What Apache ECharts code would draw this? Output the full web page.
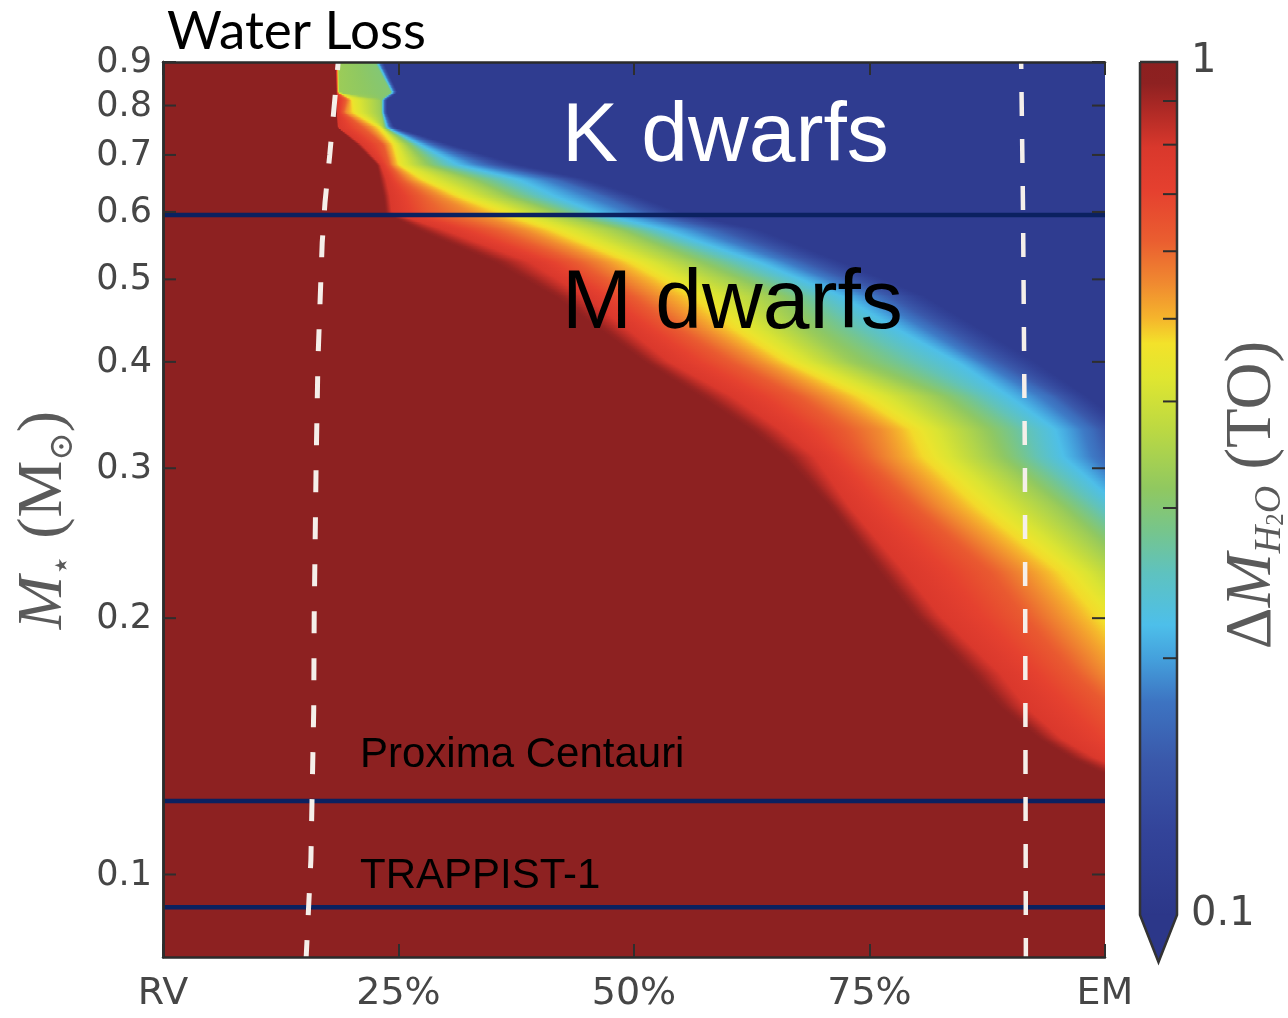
<!DOCTYPE html>
<html>
<head>
<meta charset="utf-8">
<script src="https://cdn.jsdelivr.net/npm/echarts@6/dist/echarts.min.js"></script>
<style>
  html, body { margin: 0; padding: 0; background: #fff; }
  #chart { width: 1288px; height: 1018px; }
</style>
</head>
<body>
<div id="chart"></div>
<script>
// Position in the habitable zone (Recent Venus -> Early Mars), percent
const xTicks = [0, 25, 50, 75, 100];
const xTickLabels = ['RV', '25%', '50%', '75%', 'EM'];
// Stellar mass ticks (solar masses)
const massTicks = [0.1, 0.2, 0.3, 0.4, 0.5, 0.6, 0.7, 0.8, 0.9];
// Minor ticks on the colour bar (terrestrial oceans)
const cbarTicks = [0.2, 0.3, 0.4, 0.5, 0.6, 0.7, 0.8, 0.9];

// Water lost (TO) at each contour level
const lossLevels = [0.97, 0.79, 0.63, 0.55, 0.45, 0.33, 0.30, 0.22, 0.17, 0.11];
// Stellar mass of each contour row
const rowMass = [0.90, 0.893, 0.828, 0.812, 0.784, 0.753, 0.719, 0.681, 0.654, 0.625,
                 0.598, 0.571, 0.523, 0.477, 0.436, 0.399, 0.364, 0.333, 0.309, 0.270,
                 0.226, 0.201, 0.172, 0.157, 0.144, 0.137, 0.131, 0.08];
// HZ position (%) where the water loss crosses each level, one list per row
const contourPos = [
  [18.35, 18.4, 18.45, 18.5, 18.55, 18.65, 22.6, 22.9, 23.1, 23.5],
  [18.35, 18.4, 18.45, 18.5, 18.55, 18.65, 22.6, 22.9, 23.1, 23.5],
  [18.4, 18.45, 18.5, 18.55, 18.6, 18.7, 24.2, 24.4, 24.6, 24.9],
  [18.4, 18.5, 19.4, 19.75, 20.1, 23.0, 23.2, 23.35, 23.5, 23.8],
  [18.4, 18.5, 19.1, 19.4, 20.4, 23.1, 23.2, 23.35, 23.5, 23.8],
  [18.5, 18.6, 21.1, 22.0, 23.1, 23.45, 23.55, 23.8, 24.1, 24.6],
  [20.6, 21.1, 23.35, 23.8, 24.6, 25.9, 26.35, 27.3, 28.6, 30.5],
  [22.7, 23.1, 24.0, 24.4, 25.2, 27.8, 28.6, 31.3, 34.2, 37.7],
  [23.0, 23.7, 25.2, 26.2, 27.9, 32.6, 33.7, 37.8, 41.7, 45.1],
  [23.4, 24.1, 27.3, 29.4, 31.9, 36.5, 37.6, 41.7, 46.6, 50.5],
  [23.6, 24.3, 28.3, 32.6, 36.7, 41.4, 42.5, 46.1, 50.5, 54.9],
  [27.0, 29.8, 34.8, 38.2, 42.1, 48.2, 49.4, 53.3, 58.0, 63.3],
  [35.2, 39.0, 43.7, 46.6, 50.5, 56.4, 58.1, 63.3, 67.2, 72.1],
  [41.6, 44.8, 49.6, 52.4, 57.4, 64.8, 66.6, 72.1, 76.0, 80.9],
  [46.4, 49.4, 54.5, 57.4, 61.8, 68.2, 70.6, 78.0, 82.0, 86.8],
  [51.2, 53.8, 60.2, 63.3, 67.2, 73.1, 75.8, 84.4, 87.8, 92.7],
  [57.0, 60.4, 67.2, 70.2, 75.1, 82.0, 83.9, 89.8, 94.2, 98.1],
  [62.3, 65.5, 72.1, 76.0, 80.5, 86.8, 88.7, 94.7, 98.6, 102.7],
  [66.0, 69.2, 74.1, 77.1, 82.0, 88.3, 90.1, 95.6, 99.6, 103.7],
  [70.8, 72.9, 79.6, 82.5, 87.8, 94.9, 96.5, 101.6, 104.8, 109.0],
  [76.1, 78.8, 87.8, 91.3, 96.6, 102.7, 104.5, 110.1, 114.3, 118.6],
  [79.8, 82.5, 91.3, 94.9, 100.5, 106.9, 108.4, 113.3, 117.5, 121.8],
  [85.7, 88.9, 96.6, 100.0, 105.8, 112.2, 113.7, 118.6, 122.8, 127.1],
  [88.9, 91.7, 100.5, 103.7, 109.0, 115.4, 117.0, 121.8, 126.0, 130.3],
  [93.1, 95.5, 103.7, 106.9, 112.2, 118.6, 120.1, 125.0, 129.3, 133.5],
  [96.3, 98.9, 105.8, 109.0, 114.3, 120.7, 122.2, 127.1, 131.3, 135.6],
  [100.0, 103.2, 109.0, 112.2, 117.5, 123.9, 125.4, 130.3, 134.5, 138.8],
  [110, 115, 120, 125, 130, 135, 137, 140, 145, 150]
];

// K/M boundary and two well-known stars (solar masses)
const kmBoundary = 0.595;
const proximaMass = 0.122;
const trappistMass = 0.0915;

// Inner and outer dashed limits: [HZ position %, stellar mass]
const innerEdge = [[18.6, 0.9], [17.7, 0.70], [17.2, 0.616], [16.9, 0.552], [16.45, 0.402],
                   [16.25, 0.301], [16.05, 0.201], [16.0, 0.156], [15.7, 0.104], [15.2, 0.08]];
const outerEdge = [[91.1, 0.9], [91.3, 0.6], [91.5, 0.3], [91.6, 0.08]];

// Jet-like colour map on log10(loss) from 0.1 TO (t = 0) to 1 TO (t = 1)
const cmapStops = [
  [0.00, '#2c3789'], [0.10, '#33449a'], [0.18, '#3a58aa'], [0.25, '#3d74c2'],
  [0.30, '#44a0dc'], [0.34, '#4dbfea'], [0.40, '#5ec2c0'], [0.45, '#76c58c'],
  [0.50, '#90c860'], [0.57, '#bcd942'], [0.63, '#e0e630'], [0.67, '#f3e22a'],
  [0.70, '#f5b42c'], [0.74, '#f08a30'], [0.79, '#ea5e30'], [0.85, '#e5402f'],
  [0.90, '#d9382c'], [0.945, '#ad2925'], [0.975, '#8e2121'], [1.00, '#8c2020']
];

function hexRgb(h) {
  return [parseInt(h.slice(1, 3), 16), parseInt(h.slice(3, 5), 16), parseInt(h.slice(5, 7), 16)];
}
const cmapRgb = cmapStops.map(s => [s[0], hexRgb(s[1])]);
function cmap(t) {
  t = Math.max(0, Math.min(1, t));
  for (let i = 0; i < cmapRgb.length - 1; i++) {
    const a = cmapRgb[i], b = cmapRgb[i + 1];
    if (t <= b[0]) {
      const u = (t - a[0]) / (b[0] - a[0]);
      const c = a[1].map((v, k) => Math.round(v + (b[1][k] - v) * u));
      return 'rgb(' + c.join(',') + ')';
    }
  }
  const c = cmapRgb[cmapRgb.length - 1][1];
  return 'rgb(' + c.join(',') + ')';
}

const levelT = lossLevels.map(v => 1 + Math.log10(v));

function tAt(p, x) {
  if (x <= p[0]) return levelT[0];
  for (let i = 0; i < p.length - 1; i++) {
    if (x <= p[i + 1]) {
      const w = p[i + 1] - p[i];
      const u = w > 0 ? (x - p[i]) / w : 1;
      return levelT[i] + (levelT[i + 1] - levelT[i]) * u;
    }
  }
  return levelT[levelT.length - 1];
}

// Horizontal gradient for one strip of the loss map
function stripGradient(pos) {
  const p = [];
  pos.forEach((v, i) => p.push(i ? Math.max(v, p[i - 1]) : v));
  const xs = [0, 100];
  for (let i = 0; i < p.length; i++) {
    xs.push(p[i]);
    if (i < p.length - 1) {
      for (let s = 1; s < 4; s++) xs.push(p[i] + (p[i + 1] - p[i]) * s / 4);
    }
  }
  const stops = xs.filter(x => x >= 0 && x <= 100).sort((a, b) => a - b)
    .map(x => ({ offset: x / 100, color: cmap(tAt(p, x)) }));
  return { type: 'linear', x: 0, y: 0, x2: 1, y2: 0, colorStops: stops };
}

function renderLossBand(params, api) {
  const k = api.value(2);
  const a = api.coord([0, rowMass[k]]);
  const b = api.coord([100, rowMass[k + 1]]);
  const yA = a[1], yB = b[1];
  const xl = a[0], xr = b[0];
  const n = Math.max(1, Math.round(Math.abs(yB - yA) / 1.5));
  const children = [];
  for (let j = 0; j < n; j++) {
    const f = (j + 0.5) / n;
    const pos = contourPos[k].map((v, i) => v + (contourPos[k + 1][i] - v) * f);
    const y0 = yA + (yB - yA) * j / n;
    const y1 = yA + (yB - yA) * (j + 1) / n;
    children.push({
      type: 'rect',
      shape: { x: xl, y: Math.min(y0, y1) - 0.4, width: xr - xl, height: Math.abs(y1 - y0) + 0.8 },
      style: { fill: stripGradient(pos) },
      silent: true
    });
  }
  return { type: 'group', children };
}

const tickColor = '#2e2e2e';
const labelColor = '#464646';

function renderMassTick(params, api) {
  const m = api.value(1);
  const l = api.coord([0, m]);
  const r = api.coord([100, m]);
  return {
    type: 'group',
    children: [
      { type: 'line', shape: { x1: l[0], y1: l[1], x2: l[0] + 13, y2: l[1] }, style: { stroke: tickColor, lineWidth: 2 } },
      { type: 'line', shape: { x1: r[0] - 13, y1: r[1], x2: r[0], y2: r[1] }, style: { stroke: tickColor, lineWidth: 2 } },
      { type: 'text', x: l[0] - 11, y: l[1] + 1,
        style: { text: m.toFixed(1), font: '35px "DejaVu Sans"', fill: labelColor, align: 'right', verticalAlign: 'middle' } }
    ]
  };
}

function renderColorbar(params, api) {
  const top = api.coord([0, 1]);
  const bot = api.coord([1, 0.1]);
  const xl = top[0], xr = bot[0], yt = top[1], yb = bot[1];
  const xm = (xl + xr) / 2;
  const tipY = yb + 47;
  const stops = cmapStops.map(s => ({ offset: 1 - s[0], color: s[1] })).reverse();
  const children = [
    { type: 'rect', shape: { x: xl, y: yt, width: xr - xl, height: yb - yt },
      style: { fill: { type: 'linear', x: 0, y: 0, x2: 0, y2: 1, colorStops: stops } } },
    { type: 'polygon', shape: { points: [[xl, yb - 0.5], [xr, yb - 0.5], [xm, tipY]] },
      style: { fill: cmap(0) } },
    { type: 'polyline', shape: { points: [[xl, yt], [xr, yt], [xr, yb], [xm, tipY], [xl, yb], [xl, yt]] },
      style: { stroke: '#333', lineWidth: 2.5, fill: null } }
  ];
  cbarTicks.forEach(v => {
    const y = api.coord([1, v])[1];
    children.push({ type: 'line', shape: { x1: xr - 14, y1: y, x2: xr, y2: y }, style: { stroke: tickColor, lineWidth: 2 } });
  });
  return { type: 'group', children };
}

const chart = echarts.init(document.getElementById('chart'), null, { renderer: 'canvas' });

const axisLineStyle = { show: true, lineStyle: { color: '#2b2b2b', width: 2.5 } };
const serif = '"Liberation Serif", "DejaVu Serif", serif';
const titleGrey = '#5a5a5a';

const option = {
  backgroundColor: '#ffffff',
  animation: false,
  grid: [
    { left: 163, top: 62, width: 942, height: 895 },
    { left: 1140, top: 62, width: 37, height: 853 }
  ],
  xAxis: [
    {
      type: 'value', gridIndex: 0, min: 0, max: 100, interval: 25, position: 'bottom', z: 10,
      axisLine: axisLineStyle,
      axisTick: { show: true, inside: true, length: 13, lineStyle: { color: tickColor, width: 2 } },
      splitLine: { show: false },
      axisLabel: {
        margin: 18, color: labelColor, fontFamily: 'DejaVu Sans', fontSize: 38,
        formatter: v => xTickLabels[xTicks.indexOf(v)]
      }
    },
    {
      type: 'value', gridIndex: 0, min: 0, max: 100, interval: 25, position: 'top', z: 10,
      axisLine: axisLineStyle,
      axisTick: { show: true, inside: true, length: 13, lineStyle: { color: tickColor, width: 2 } },
      splitLine: { show: false },
      axisLabel: { show: false }
    },
    { type: 'value', gridIndex: 1, min: 0, max: 1, show: false }
  ],
  yAxis: [
    {
      type: 'log', logBase: 10, gridIndex: 0, min: 0.08, max: 0.9, position: 'left', z: 10,
      axisLine: axisLineStyle, axisTick: { show: false }, axisLabel: { show: false },
      splitLine: { show: false }, minorTick: { show: false }
    },
    {
      type: 'log', logBase: 10, gridIndex: 0, min: 0.08, max: 0.9, position: 'right', z: 10,
      axisLine: axisLineStyle, axisTick: { show: false }, axisLabel: { show: false },
      splitLine: { show: false }
    },
    {
      type: 'log', logBase: 10, gridIndex: 1, min: 0.1, max: 1, position: 'right',
      axisLine: { show: false }, axisTick: { show: false }, splitLine: { show: false },
      axisLabel: {
        show: true, margin: 14, color: labelColor, fontFamily: 'DejaVu Sans', fontSize: 40,
        formatter: v => (v >= 1 ? '1' : '0.1')
      }
    }
  ],
  series: [
    {
      name: 'water loss', type: 'custom', xAxisIndex: 0, yAxisIndex: 0, z: 1, clip: true, silent: true,
      renderItem: renderLossBand,
      data: rowMass.slice(0, -1).map((m, k) => [0, m, k])
    },
    ...[kmBoundary, proximaMass, trappistMass].map(m => ({
      type: 'line', xAxisIndex: 0, yAxisIndex: 0, z: 3, silent: true, symbol: 'none',
      lineStyle: { color: '#0b2160', width: 4.5 },
      data: [[0, m], [100, m]]
    })),
    {
      type: 'line', xAxisIndex: 0, yAxisIndex: 0, z: 4, silent: true, symbol: 'none',
      lineStyle: { color: '#f5efea', width: 5, type: [22, 25], dashOffset: 14, cap: 'butt' },
      data: innerEdge
    },
    {
      type: 'line', xAxisIndex: 0, yAxisIndex: 0, z: 4, silent: true, symbol: 'none',
      lineStyle: { color: '#f5efea', width: 4.5, type: [24, 23], dashOffset: 17, cap: 'butt' },
      data: outerEdge
    },
    {
      type: 'custom', xAxisIndex: 0, yAxisIndex: 0, z: 12, clip: false, silent: true,
      renderItem: renderMassTick,
      data: massTicks.map(m => [0, m])
    },
    {
      type: 'custom', xAxisIndex: 2, yAxisIndex: 2, z: 5, clip: false, silent: true,
      renderItem: renderColorbar,
      data: [[0, 1]]
    }
  ],
  graphic: [
    { type: 'text', x: 167, y: 32, z: 100, silent: true,
      style: { text: 'Water Loss', font: '53px Lato', fill: '#000', align: 'left', verticalAlign: 'middle' } },
    { type: 'text', x: 562, y: 138, z: 100, silent: true,
      style: { text: 'K dwarfs', font: '84px "Liberation Sans"', fill: '#ffffff', align: 'left', verticalAlign: 'middle' } },
    { type: 'text', x: 562, y: 305, z: 100, silent: true,
      style: { text: 'M dwarfs', font: '84px "Liberation Sans"', fill: '#000', align: 'left', verticalAlign: 'middle' } },
    { type: 'text', x: 360, y: 755, z: 100, silent: true,
      style: { text: 'Proxima Centauri', font: '42px "Liberation Sans"', fill: '#000', align: 'left', verticalAlign: 'middle' } },
    { type: 'text', x: 360, y: 876, z: 100, silent: true,
      style: { text: 'TRAPPIST-1', font: '42px "Liberation Sans"', fill: '#000', align: 'left', verticalAlign: 'middle' } },
    { type: 'text', x: 44, y: 520, rotation: Math.PI / 2, z: 100, silent: true,
      style: {
        text: '{i|M}{s|⋆}{r| (M}{s|⊙}{r|)}', align: 'center', verticalAlign: 'middle',
        rich: {
          i: { fontFamily: serif, fontStyle: 'italic', fontSize: 64, fill: titleGrey, lineHeight: 72, verticalAlign: 'middle' },
          r: { fontFamily: serif, fontSize: 64, fill: titleGrey, lineHeight: 72, verticalAlign: 'middle' },
          s: { fontFamily: '"DejaVu Serif", serif', fontSize: 34, fill: titleGrey, lineHeight: 40, verticalAlign: 'bottom' }
        }
      } },
    { type: 'text', x: 1253, y: 495, rotation: Math.PI / 2, z: 100, silent: true,
      style: {
        text: '{r|Δ}{i|M}{s|H}{ss|2}{s|O}{r| (TO)}', align: 'center', verticalAlign: 'middle',
        rich: {
          i: { fontFamily: serif, fontStyle: 'italic', fontSize: 65, fill: titleGrey, lineHeight: 72, verticalAlign: 'middle' },
          r: { fontFamily: serif, fontSize: 65, fill: titleGrey, lineHeight: 72, verticalAlign: 'middle' },
          s: { fontFamily: serif, fontStyle: 'italic', fontSize: 38, fill: titleGrey, lineHeight: 42, verticalAlign: 'bottom' },
          ss: { fontFamily: serif, fontSize: 25, fill: titleGrey, lineHeight: 29, verticalAlign: 'bottom' }
        }
      } }
  ]
};

chart.setOption(option);
</script>
</body>
</html>
